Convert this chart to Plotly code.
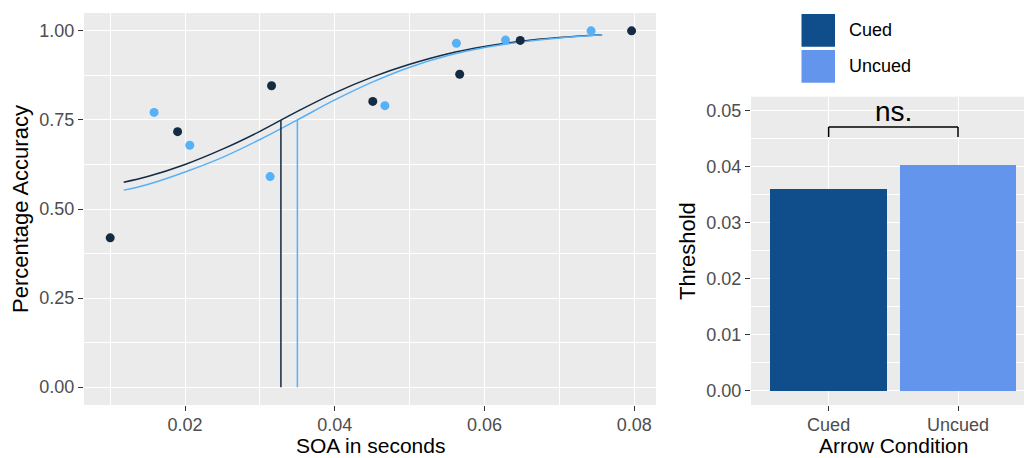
import plotly.graph_objects as go

# ---------------- data ----------------
cued_soa = [0.0100, 0.0190, 0.03155, 0.04507, 0.05668, 0.06477, 0.07964]
cued_acc = [0.419, 0.717, 0.846, 0.802, 0.878, 0.973, 1.000]
uncued_soa = [0.01586, 0.02063, 0.03136, 0.04669, 0.05624, 0.06280, 0.07423]
uncued_acc = [0.771, 0.679, 0.591, 0.790, 0.965, 0.974, 1.000]

fit_soa_cued = [0.0118, 0.015, 0.020, 0.025, 0.030, 0.035, 0.040, 0.045, 0.050, 0.055, 0.060, 0.065, 0.070, 0.0757]
fit_acc_cued = [0.575, 0.591, 0.625, 0.668, 0.718, 0.774, 0.826, 0.870, 0.906, 0.935, 0.956, 0.971, 0.981, 0.989]
fit_soa_uncued = [0.0118, 0.015, 0.020, 0.025, 0.030, 0.035, 0.040, 0.045, 0.050, 0.055, 0.060, 0.065, 0.070, 0.0757]
fit_acc_uncued = [0.553, 0.569, 0.604, 0.645, 0.695, 0.750, 0.806, 0.856, 0.898, 0.930, 0.953, 0.969, 0.980, 0.989]

threshold_level = 0.75
thresh_cued = 0.0328
thresh_uncued = 0.0350

conditions = ["Cued", "Uncued"]
bar_thresholds = [0.0361, 0.0403]
sig_label = "ns."
sig_height = 0.0471
sig_tick = 0.0453

x_ticks_left = [0.02, 0.04, 0.06, 0.08]
x_ticklabels_left = ["0.02", "0.04", "0.06", "0.08"]
y_ticks_left = [0.0, 0.25, 0.5, 0.75, 1.0]
y_ticklabels_left = ["0.00", "0.25", "0.50", "0.75", "1.00"]
y_ticks_right = [0.0, 0.01, 0.02, 0.03, 0.04, 0.05]
y_ticklabels_right = ["0.00", "0.01", "0.02", "0.03", "0.04", "0.05"]

# ---------------- style ----------------
DARK = "#132B43"
LIGHT = "#56B1F7"
BAR_COLORS = ["#104E8B", "#6495ED"]
FONT = "Liberation Sans, Arial, sans-serif"
W, H = 1024, 458
TICKFONT = dict(family=FONT, size=18, color="#4D4D4D")
TITLEFONT = dict(family=FONT, size=22, color="black")
XTITLEFONT = dict(family=FONT, size=21, color="black")

fig = go.Figure()

# left panel: fitted curves
fig.add_trace(go.Scatter(x=fit_soa_cued, y=fit_acc_cued, mode="lines",
                         line=dict(color=DARK, width=1.5, shape="spline"),
                         showlegend=False, xaxis="x", yaxis="y"))
fig.add_trace(go.Scatter(x=fit_soa_uncued, y=fit_acc_uncued, mode="lines",
                         line=dict(color=LIGHT, width=1.5, shape="spline"),
                         showlegend=False, xaxis="x", yaxis="y"))
# threshold drop lines
fig.add_trace(go.Scatter(x=[thresh_cued, thresh_cued], y=[0, threshold_level], mode="lines",
                         line=dict(color=DARK, width=1.5), showlegend=False,
                         xaxis="x", yaxis="y"))
fig.add_trace(go.Scatter(x=[thresh_uncued, thresh_uncued], y=[0, threshold_level], mode="lines",
                         line=dict(color=LIGHT, width=1.5), showlegend=False,
                         xaxis="x", yaxis="y"))
# points
fig.add_trace(go.Scatter(x=cued_soa, y=cued_acc, mode="markers",
                         marker=dict(color=DARK, size=9), showlegend=False,
                         xaxis="x", yaxis="y"))
fig.add_trace(go.Scatter(x=uncued_soa, y=uncued_acc, mode="markers",
                         marker=dict(color=LIGHT, size=9), showlegend=False,
                         xaxis="x", yaxis="y"))

# right panel: bars
fig.add_trace(go.Bar(x=conditions, y=bar_thresholds, marker=dict(color=BAR_COLORS, line=dict(width=0)),
                     width=0.9, showlegend=False, xaxis="x2", yaxis="y2"))

# significance bracket
fig.add_shape(type="line", xref="x2", yref="y2", x0=0, x1=0, y0=sig_tick, y1=sig_height,
              line=dict(color="black", width=1.5))
fig.add_shape(type="line", xref="x2", yref="y2", x0=0, x1=1, y0=sig_height, y1=sig_height,
              line=dict(color="black", width=1.5))
fig.add_shape(type="line", xref="x2", yref="y2", x0=1, x1=1, y0=sig_tick, y1=sig_height,
              line=dict(color="black", width=1.5))
fig.add_annotation(xref="x2", yref="y2", x=0.5, y=0.0498, text=sig_label, showarrow=False,
                   font=dict(family=FONT, size=28, color="black"), yanchor="middle")

# legend drawn manually (large ggplot-style keys)
legend_rows = [(14, 46.7), (50, 82.7)]
for (top, bottom), name, col in zip(legend_rows, conditions, BAR_COLORS):
    fig.add_shape(type="rect", xref="paper", yref="paper",
                  x0=801.5 / W, x1=835 / W, y0=1 - bottom / H, y1=1 - top / H,
                  fillcolor=col, line=dict(width=0))
    fig.add_annotation(xref="paper", yref="paper", x=847 / W, y=1 - (top + bottom) / 2 / H,
                       text=name, showarrow=False, xanchor="left", yanchor="middle",
                       font=dict(family=FONT, size=18, color="black"))

# axis titles
fig.add_annotation(xref="paper", yref="paper", x=370 / W, y=0, text="SOA in seconds",
                   showarrow=False, font=XTITLEFONT, xanchor="center", yanchor="bottom",
                   borderpad=0)
fig.add_annotation(xref="paper", yref="paper", x=20 / W, y=1 - 209 / H, text="Percentage Accuracy",
                   showarrow=False, font=TITLEFONT, textangle=-90, xanchor="center", yanchor="middle")
fig.add_annotation(xref="paper", yref="paper", x=893 / W, y=0, text="Arrow Condition",
                   showarrow=False, font=XTITLEFONT, xanchor="center", yanchor="bottom",
                   borderpad=0)
fig.add_annotation(xref="paper", yref="paper", x=687 / W, y=1 - 251 / H, text="Threshold",
                   showarrow=False, font=TITLEFONT, textangle=-90, xanchor="center", yanchor="middle")

common = dict(showline=False, zeroline=False, ticks="outside", ticklen=5, tickwidth=1.1,
              tickcolor="#333333", tickfont=TICKFONT, gridcolor="white", gridwidth=1.3,
              automargin=False, fixedrange=True)

fig.update_layout(
    width=W, height=H,
    margin=dict(l=0, r=0, t=0, b=0),
    paper_bgcolor="white",
    plot_bgcolor="#EBEBEB",
    showlegend=False,
    bargap=0,
    xaxis=dict(domain=[84 / W, 656 / W], range=[0.0065, 0.0829], tickvals=x_ticks_left,
               ticktext=x_ticklabels_left, anchor="y", ticklabelstandoff=-2,
               minor=dict(dtick=0.01, tick0=0, showgrid=True, gridcolor="white", gridwidth=0.6),
               **common),
    yaxis=dict(domain=[1 - 405 / H, 1 - 13 / H], range=[-0.05, 1.05], tickvals=y_ticks_left,
               ticktext=y_ticklabels_left, anchor="x",
               minor=dict(dtick=0.125, tick0=0, showgrid=True, gridcolor="white", gridwidth=0.6),
               **common),
    xaxis2=dict(domain=[751 / W, 1.0], range=[-0.6, 1.51], type="category", anchor="y2",
                ticklabelstandoff=-2, **common),
    yaxis2=dict(domain=[1 - 405 / H, 1 - 96.7 / H], range=[-0.0025, 0.0525], tickvals=y_ticks_right,
                ticktext=y_ticklabels_right, anchor="x2",
                minor=dict(dtick=0.005, tick0=0, showgrid=True, gridcolor="white", gridwidth=0.6),
                **common),
)

fig.write_html("out.html")
